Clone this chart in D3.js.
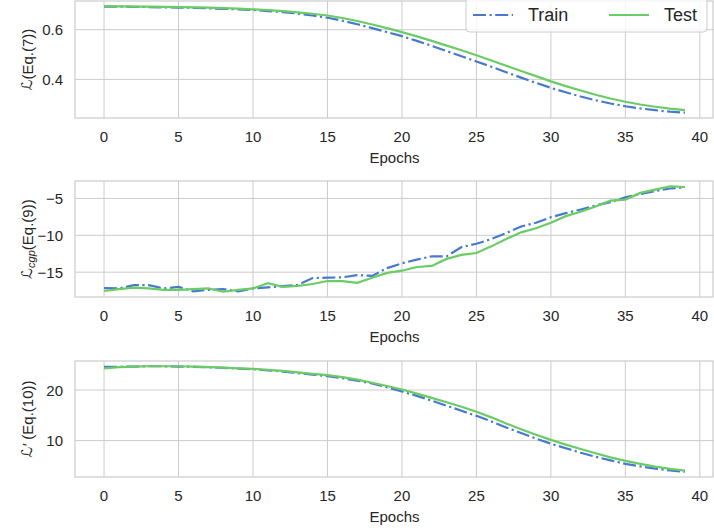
<!DOCTYPE html>
<html>
<head>
<meta charset="utf-8">
<script src="https://cdn.jsdelivr.net/npm/d3@7.9.0/dist/d3.min.js"></script>
<style>
  html, body { margin: 0; padding: 0; background: #fff; }
  svg { display: block; font-family: "Liberation Sans", Arial, sans-serif; }
</style>
</head>
<body>
<svg id="chart" width="714" height="532"></svg>
<script>
// epochs 0..39
const epochs = d3.range(40);

// panel 1: L (Eq.(7))
const lossTrain = [0.693, 0.693, 0.692, 0.691, 0.690, 0.689, 0.688, 0.686, 0.684, 0.682,
  0.679, 0.675, 0.671, 0.665, 0.657, 0.648, 0.636, 0.622, 0.606, 0.590,
  0.574, 0.555, 0.535, 0.514, 0.493, 0.472, 0.451, 0.429, 0.407, 0.386,
  0.366, 0.348, 0.331, 0.316, 0.303, 0.292, 0.283, 0.276, 0.270, 0.266];
const lossTest = [0.694, 0.694, 0.693, 0.693, 0.692, 0.691, 0.690, 0.689, 0.687, 0.685,
  0.682, 0.679, 0.675, 0.670, 0.664, 0.657, 0.647, 0.635, 0.621, 0.606,
  0.590, 0.573, 0.555, 0.536, 0.517, 0.497, 0.476, 0.455, 0.434, 0.413,
  0.392, 0.373, 0.355, 0.338, 0.323, 0.310, 0.299, 0.290, 0.282, 0.276];

// panel 2: L_cgp (Eq.(9))
const cgpTrain = [-17.15, -17.2, -16.75, -16.75, -17.2, -17.0, -17.6, -17.4, -17.3, -17.6,
  -17.2, -17.05, -16.9, -16.75, -15.8, -15.75, -15.7, -15.4, -15.5, -14.45,
  -13.8, -13.3, -12.85, -12.85, -11.6, -11.15, -10.5, -9.7, -8.8, -8.3,
  -7.55, -7.0, -6.5, -5.95, -5.5, -4.85, -4.4, -4.0, -3.65, -3.5];
const cgpTest = [-17.55, -17.3, -17.1, -17.2, -17.4, -17.4, -17.3, -17.2, -17.65, -17.4,
  -17.2, -16.5, -17.0, -16.85, -16.6, -16.2, -16.2, -16.45, -15.75, -15.1,
  -14.8, -14.3, -14.15, -13.2, -12.65, -12.4, -11.5, -10.5, -9.6, -9.05,
  -8.3, -7.4, -6.8, -6.1, -5.3, -5.15, -4.25, -3.8, -3.35, -3.45];

// panel 3: L' (Eq.(10))
const primeTrain = [24.6, 24.6, 24.65, 24.7, 24.7, 24.65, 24.6, 24.5, 24.4, 24.25,
  24.1, 23.9, 23.65, 23.35, 23.05, 22.75, 22.35, 21.85, 21.3, 20.55,
  19.7, 18.85, 17.9, 16.9, 15.9, 14.9, 13.8, 12.6, 11.5, 10.4,
  9.4, 8.5, 7.6, 6.8, 6.1, 5.4, 4.9, 4.45, 4.1, 3.85];
const primeTest = [24.3, 24.55, 24.65, 24.7, 24.7, 24.7, 24.65, 24.55, 24.45, 24.3,
  24.2, 24.0, 23.8, 23.5, 23.2, 22.95, 22.55, 22.05, 21.45, 20.8,
  20.1, 19.3, 18.45, 17.6, 16.7, 15.7, 14.6, 13.4, 12.25, 11.15,
  10.15, 9.2, 8.35, 7.5, 6.7, 6.0, 5.4, 4.85, 4.4, 4.05];

const xTicks = [0, 5, 10, 15, 20, 25, 30, 35, 40];
const seriesNames = ['Train', 'Test'];

const panels = [
  { train: lossTrain, test: lossTest, ticks: [0.4, 0.6], fmt: d3.format('.1f'), top: 1, bottom: 118, label: 'p1' },
  { train: cgpTrain, test: cgpTest, ticks: [-15, -10, -5], fmt: d3.format('d'), top: 181, bottom: 297, label: 'p2' },
  { train: primeTrain, test: primeTest, ticks: [10, 20], fmt: d3.format('d'), top: 361, bottom: 477, label: 'p3' }
];

const blue = '#4878d0', green = '#6acc64', grid = '#cccccc', ink = '#262626';
const left = 75, right = 714;
const svg = d3.select('#chart');

const x = d3.scaleLinear().domain([-1.95, 40.95]).range([left, right]);

panels.forEach((p, i) => {
  const all = p.train.concat(p.test);
  const [lo, hi] = d3.extent(all);
  const pad = (hi - lo) * 0.05;
  const y = d3.scaleLinear().domain([lo - pad, hi + pad]).range([p.bottom, p.top]);

  const g = svg.append('g');

  // grid
  g.selectAll('.gx').data(xTicks).enter().append('line')
    .attr('x1', d => x(d)).attr('x2', d => x(d))
    .attr('y1', p.top).attr('y2', p.bottom)
    .attr('stroke', grid).attr('stroke-width', 1);
  g.selectAll('.gy').data(p.ticks).enter().append('line')
    .attr('x1', left).attr('x2', right)
    .attr('y1', d => y(d)).attr('y2', d => y(d))
    .attr('stroke', grid).attr('stroke-width', 1);

  // frame
  g.append('rect')
    .attr('x', left).attr('y', p.top)
    .attr('width', right - left - 1).attr('height', p.bottom - p.top)
    .attr('fill', 'none').attr('stroke', grid).attr('stroke-width', 1.2);

  // tick labels
  g.selectAll('.tx').data(xTicks).enter().append('text')
    .attr('x', d => x(d)).attr('y', p.bottom + 18)
    .attr('text-anchor', 'middle').attr('dominant-baseline', 'central')
    .attr('font-size', 15).attr('fill', ink)
    .text(d => d);
  g.selectAll('.ty').data(p.ticks).enter().append('text')
    .attr('x', left - 12).attr('y', d => y(d))
    .attr('text-anchor', 'end').attr('dominant-baseline', 'central')
    .attr('font-size', 15).attr('fill', ink)
    .text(d => p.fmt(d));

  g.append('text')
    .attr('x', (left + right) / 2).attr('y', p.bottom + 39)
    .attr('text-anchor', 'middle').attr('dominant-baseline', 'central')
    .attr('font-size', 15).attr('fill', ink)
    .text('Epochs');

  // y label
  const yl = g.append('text')
    .attr('transform', `translate(27,${(p.top + p.bottom) / 2}) rotate(-90)`)
    .attr('text-anchor', 'middle').attr('dominant-baseline', 'central')
    .attr('font-size', 15).attr('fill', ink);
  yl.append('tspan').attr('font-family', 'DejaVu Sans').attr('font-style', 'italic').text('ℒ');
  if (i === 1) {
    yl.append('tspan').attr('font-style', 'italic').attr('font-size', 11)
      .attr('dy', 4).text('cgp');
    yl.append('tspan').attr('dy', -4).text('(Eq.(9))');
  } else if (i === 2) {
    yl.append('tspan').attr('font-style', 'italic').text('′ ');
    yl.append('tspan').text('(Eq.(10))');
  } else {
    yl.append('tspan').text('(Eq.(7))');
  }

  // lines
  const clipId = 'clip' + i;
  svg.append('clipPath').attr('id', clipId).append('rect')
    .attr('x', left).attr('y', p.top).attr('width', right - left).attr('height', p.bottom - p.top);
  const line = d3.line().x((d, j) => x(epochs[j])).y(d => y(d));

  g.append('path').datum(p.train)
    .attr('d', line).attr('clip-path', `url(#${clipId})`)
    .attr('fill', 'none').attr('stroke', blue).attr('stroke-width', 2.2)
    .attr('stroke-dasharray', '13,3.5,2.2,3.5');
  g.append('path').datum(p.test)
    .attr('d', line).attr('clip-path', `url(#${clipId})`)
    .attr('fill', 'none').attr('stroke', green).attr('stroke-width', 2.2);
});

// legend
const lg = svg.append('g');
lg.append('rect')
  .attr('x', 466).attr('y', -3).attr('width', 241).attr('height', 35).attr('rx', 4)
  .attr('fill', 'white').attr('fill-opacity', 0.8)
  .attr('stroke', grid).attr('stroke-width', 1);
const legendItems = [
  { name: seriesNames[0], color: blue, dash: '13,3.5,2.2,3.5', x0: 473, tx: 528 },
  { name: seriesNames[1], color: green, dash: null, x0: 609, tx: 664 }
];
legendItems.forEach(d => {
  lg.append('line')
    .attr('x1', d.x0).attr('x2', d.x0 + 40).attr('y1', 15).attr('y2', 15)
    .attr('stroke', d.color).attr('stroke-width', 2.2)
    .attr('stroke-dasharray', d.dash);
  lg.append('text')
    .attr('x', d.tx).attr('y', 15).attr('dominant-baseline', 'central')
    .attr('font-size', 18).attr('fill', ink)
    .text(d.name);
});
</script>
</body>
</html>
